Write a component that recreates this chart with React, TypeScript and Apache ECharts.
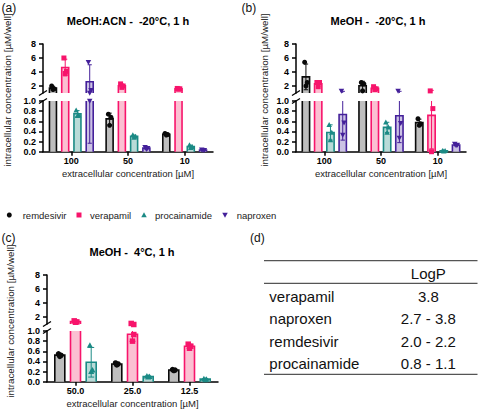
import React, { useEffect, useRef } from 'react';
import * as echarts from 'echarts';

const FONT = "'Liberation Sans', Arial, Helvetica, sans-serif";

const drugs = ['remdesivir', 'verapamil', 'procainamide', 'naproxen'];
const strokeColors = ['#0a0a0a', '#f7146b', '#1b8a85', '#44209a'];
const fillColors = ['#bebebe', '#fbc0d2', '#b9dbd8', '#cbc2e4'];
const markers = ['circle', 'square', 'triangle', 'triangleDown'];

const concAB = ['100', '50', '10'];
const concC = ['50.0', '25.0', '12.5'];

// Replicate wells (µM/well), one triple per extracellular concentration
const aRemdesivir = [[2.0, 1.6, 1.5], [0.74, 0.68, 0.52], [0.36, 0.34, 0.33]];
const aVerapamil = [[6.0, 4.1, 3.8], [2.3, 2.0, 1.8], [1.65, 1.6, 1.55]];
const aProcainamide = [[0.82, 0.72, 0.71], [0.33, 0.3, 0.28], [0.13, 0.1, 0.08]];
const aNaproxen = [[5.4, 1.4, 1.0], [0.09, 0.07, 0.05], [0.04, 0.03, 0.03]];

const bRemdesivir = [[5.4, 2.5, 2.0], [2.5, 2.3, 1.3], [0.65, 0.55, 0.52]];
const bVerapamil = [[2.5, 2.5, 1.9], [1.9, 1.6, 1.5], [1.3, 0.85, 0.0]];
const bProcainamide = [[0.53, 0.38, 0.23], [0.58, 0.48, 0.38], [0.02, 0.02, 0.01]];
const bNaproxen = [[1.3, 0.57, 0.33], [1.3, 0.56, 0.27], [0.15, 0.13, 0.12]];

const cRemdesivir = [[0.55, 0.52, 0.5], [0.37, 0.35, 0.33], [0.24, 0.23, 0.22]];
const cVerapamil = [[1.45, 1.3, 1.25], [1.08, 0.93, 0.8], [0.74, 0.7, 0.66]];
const cProcainamide = [[0.72, 0.23, 0.2], [0.11, 0.1, 0.09], [0.06, 0.05, 0.04]];

// Broken y axis: lower segment 0–1, upper segment 1–8
const lowerRange = [0, 1];
const upperRange = [1, 8];
const upperTicks = [2, 4, 6, 8];

const logpDrugs = ['verapamil', 'naproxen', 'remdesivir', 'procainamide'];
const logpValues = ['3.8', '2.7 - 3.8', '2.0 - 2.2', '0.8 - 1.1'];

const Y_NAME = 'intracellular concentration [µM/well]';
const X_NAME = 'extracellular concentration [µM]';

const UPPER_H = 49;
const LOWER_H = 50.7;

const PANELS = [
  {
    tag: '(a)', tagX: 1.5, tagY: 8,
    title: 'MeOH:ACN -  -20°C, 1 h', titleX: 128, titleY: 21,
    cats: concAB, reps: [aRemdesivir, aVerapamil, aProcainamide, aNaproxen],
    left: 43, width: 170, upperTop: 44, lowerTop: 101,
    barW: 7, gapRatio: 0.75, markerSize: 5, nameX: 7.5, nameY: 90,
  },
  {
    tag: '(b)', tagX: 241.5, tagY: 8,
    title: 'MeOH -  -20°C, 1 h', titleX: 378, titleY: 21,
    cats: concAB, reps: [bRemdesivir, bVerapamil, bProcainamide, bNaproxen],
    left: 296, width: 170, upperTop: 44, lowerTop: 101,
    barW: 7.3, gapRatio: 0.68, markerSize: 5, nameX: 264, nameY: 90,
  },
  {
    tag: '(c)', tagX: 1.5, tagY: 238,
    title: 'MeOH -  4°C, 1 h', titleX: 132, titleY: 252,
    cats: concC, reps: [cRemdesivir, cVerapamil, cProcainamide],
    left: 47, width: 171, upperTop: 275, lowerTop: 331,
    barW: 10, gapRatio: 0.57, markerSize: 5.5, nameX: 10, nameY: 321,
  },
];

const JITTER = [-1.3, 1.3, 0];

function mean(v: number[]) {
  return v.reduce((s, x) => s + x, 0) / v.length;
}
function sd(v: number[]) {
  const m = mean(v);
  return Math.sqrt(v.reduce((s, x) => s + (x - m) * (x - m), 0) / (v.length - 1));
}

function markerEl(kind: string, x: number, y: number, s: number, color: string): any {
  const h = s / 2;
  const style = { fill: color, stroke: null };
  if (kind === 'circle') return { type: 'circle', shape: { cx: x, cy: y, r: h }, style };
  if (kind === 'square') return { type: 'rect', shape: { x: x - h, y: y - h, width: s, height: s }, style };
  if (kind === 'triangle')
    return { type: 'polygon', shape: { points: [[x, y - h * 1.1], [x + h * 1.1, y + h * 0.9], [x - h * 1.1, y + h * 0.9]] }, style };
  return { type: 'polygon', shape: { points: [[x - h * 1.1, y - h * 0.9], [x + h * 1.1, y - h * 0.9], [x, y + h * 1.1]] }, style };
}

function makeRenderItem(p: any, d: number, n: number) {
  const offset = (d - (n - 1) / 2) * p.barW * (1 + p.gapRatio);
  const stroke = strokeColors[d];
  return (params: any, api: any) => {
    const cs = params.coordSys;
    const top = cs.y;
    const bottom = cs.y + cs.height;
    const clampY = (y: number) => Math.min(bottom, Math.max(top, y));
    const i = api.value(0);
    const m = api.value(1);
    const s = api.value(2);
    const reps = [api.value(3), api.value(4), api.value(5)];
    const pm = api.coord([i, m]);
    const cx = pm[0] + offset;
    const yMean = pm[1];
    const y0 = api.coord([i, 0])[1];
    const yHi = api.coord([i, m + s])[1];
    const yLo = api.coord([i, m - s])[1];
    const half = p.barW / 2;
    const children: any[] = [];

    // bar body, open where it runs into the axis break
    const bt = clampY(yMean);
    const bb = clampY(y0);
    if (bb - bt > 0.5) {
      children.push({
        type: 'rect',
        shape: { x: cx - half, y: bt, width: p.barW, height: bb - bt },
        style: { fill: fillColors[d], stroke: null },
      });
      const lw = 1.6;
      const edge = { stroke, lineWidth: lw, fill: null };
      if (yMean >= top) {
        children.push({
          type: 'polyline',
          shape: { points: [[cx - half, bb], [cx - half, bt], [cx + half, bt], [cx + half, bb]] },
          style: edge,
        });
      } else {
        children.push({ type: 'line', shape: { x1: cx - half, y1: bt, x2: cx - half, y2: bb }, style: edge });
        children.push({ type: 'line', shape: { x1: cx + half, y1: bt, x2: cx + half, y2: bb }, style: edge });
      }
    }

    // SD error bar with caps
    const e1 = clampY(yHi);
    const e2 = clampY(yLo);
    const eStyle = { stroke, lineWidth: 1, fill: null };
    const cap = p.barW * 0.3;
    if (e2 - e1 > 0.3) {
      children.push({ type: 'line', shape: { x1: cx, y1: e1, x2: cx, y2: e2 }, style: eStyle });
    }
    if (yHi >= top && yHi <= bottom && s > 0) {
      children.push({ type: 'line', shape: { x1: cx - cap, y1: yHi, x2: cx + cap, y2: yHi }, style: eStyle });
    }
    if (yLo >= top && yLo <= bottom && s > 0) {
      children.push({ type: 'line', shape: { x1: cx - cap, y1: yLo, x2: cx + cap, y2: yLo }, style: eStyle });
    }

    // individual wells
    reps.forEach((v: number, k: number) => {
      const y = api.coord([i, v])[1];
      if (y >= top - 0.5 && y <= bottom + 0.5) {
        children.push(markerEl(markers[d], cx + JITTER[k], y, p.markerSize, stroke));
      }
    });

    return { type: 'group', children };
  };
}

function buildOption() {
  const grid: any[] = [];
  const xAxis: any[] = [];
  const yAxis: any[] = [];
  const series: any[] = [];
  const elements: any[] = [];

  const axisLine = { show: true, lineStyle: { color: '#000', width: 1.5 } };
  const tickLabel = { fontSize: 9, fontWeight: 'bold', color: '#000', fontFamily: FONT };

  PANELS.forEach((p, pi) => {
    const gu = 2 * pi;
    const gl = 2 * pi + 1;
    grid.push({ left: p.left, top: p.upperTop, width: p.width, height: UPPER_H, outerBoundsMode: 'none', containLabel: false });
    grid.push({ left: p.left, top: p.lowerTop, width: p.width, height: LOWER_H, outerBoundsMode: 'none', containLabel: false });

    xAxis.push({ type: 'category', gridIndex: gu, data: p.cats, show: false });
    xAxis.push({
      type: 'category',
      gridIndex: gl,
      data: p.cats,
      axisLine,
      axisTick: { show: true, alignWithLabel: true, length: 4, lineStyle: { color: '#000', width: 1.5 } },
      axisLabel: { ...tickLabel, margin: 5 },
      splitLine: { show: false },
      name: X_NAME,
      nameLocation: 'middle',
      nameGap: 17,
      nameTextStyle: { fontSize: 9.5, color: '#222', fontFamily: FONT },
    });

    yAxis.push({
      type: 'value',
      gridIndex: gu,
      min: upperRange[0],
      max: upperRange[1],
      axisLine,
      axisTick: { show: true, length: 4, customValues: upperTicks, lineStyle: { color: '#000', width: 1.5 } },
      axisLabel: { ...tickLabel, margin: 7, customValues: upperTicks },
      splitLine: { show: false },
    });
    yAxis.push({
      type: 'value',
      gridIndex: gl,
      min: lowerRange[0],
      max: lowerRange[1],
      interval: 0.2,
      axisLine,
      axisTick: { show: true, length: 4, lineStyle: { color: '#000', width: 1.5 } },
      axisLabel: { ...tickLabel, margin: 7, formatter: (v: number) => v.toFixed(1) },
      splitLine: { show: false },
    });

    const n = p.reps.length;
    p.reps.forEach((reps, d) => {
      const data = reps.map((r, i) => [i, mean(r), sd(r), r[0], r[1], r[2]]);
      [gu, gl].forEach((g) => {
        series.push({
          type: 'custom',
          name: drugs[d],
          xAxisIndex: g,
          yAxisIndex: g,
          data,
          encode: { x: 0, y: 1 },
          renderItem: makeRenderItem(p, d, n),
          silent: true,
          z: 3,
        });
      });
    });

    // break marks on the y axis
    const yu = p.upperTop + UPPER_H;
    const yl = p.lowerTop;
    [yu, yl].forEach((y) => {
      elements.push({
        type: 'line',
        shape: { x1: p.left - 4, y1: y + 2.5, x2: p.left + 4, y2: y - 2.5 },
        style: { stroke: '#000', lineWidth: 1.3 },
        z: 10,
      });
    });

    elements.push({
      type: 'text', x: p.titleX, y: p.titleY,
      style: { text: p.title, fontSize: 11, fontWeight: 'bold', fontFamily: FONT, fill: '#000', align: 'center', verticalAlign: 'middle', textAlign: 'center', textVerticalAlign: 'middle' },
    });
    elements.push({
      type: 'text', x: p.tagX, y: p.tagY,
      style: { text: p.tag, fontSize: 12, fontFamily: FONT, fill: '#111', align: 'left', verticalAlign: 'middle', textAlign: 'left', textVerticalAlign: 'middle' },
    });
    elements.push({
      type: 'text', x: p.nameX, y: p.nameY, rotation: Math.PI / 2,
      style: { text: Y_NAME, fontSize: 9.8, fontFamily: FONT, fill: '#222', align: 'center', verticalAlign: 'middle', textAlign: 'center', textVerticalAlign: 'middle' },
    });
  });

  // shared legend row
  const legendMarkerX = [9.3, 79, 144, 225];
  const legendTextX = [22.7, 90, 155, 236.7];
  const legendY = 215;
  drugs.forEach((name, d) => {
    elements.push(markerEl(markers[d], legendMarkerX[d], legendY, 5, strokeColors[d]));
    elements.push({
      type: 'text', x: legendTextX[d], y: legendY,
      style: { text: name, fontSize: 9.5, fontFamily: FONT, fill: '#222', align: 'left', verticalAlign: 'middle', textAlign: 'left', textVerticalAlign: 'middle' },
    });
  });

  // (d) LogP table
  elements.push({
    type: 'text', x: 250, y: 238,
    style: { text: '(d)', fontSize: 12, fontFamily: FONT, fill: '#111', align: 'left', verticalAlign: 'middle', textAlign: 'left', textVerticalAlign: 'middle' },
  });
  const tLeft = 264;
  const tRight = 477.5;
  const valueX = 428.3;
  const ruleStyle = { stroke: '#555', lineWidth: 1.2 };
  [260.7, 283.3, 374.3].forEach((y) => {
    elements.push({ type: 'line', shape: { x1: tLeft, y1: y, x2: tRight, y2: y }, style: ruleStyle });
  });
  elements.push({
    type: 'text', x: valueX, y: 273.3,
    style: { text: 'LogP', fontSize: 15, fontFamily: FONT, fill: '#111', align: 'center', verticalAlign: 'middle', textAlign: 'center', textVerticalAlign: 'middle' },
  });
  logpDrugs.forEach((name, r) => {
    const y = 296 + r * 22.5;
    elements.push({
      type: 'text', x: 269.3, y,
      style: { text: name, fontSize: 15, fontFamily: FONT, fill: '#111', align: 'left', verticalAlign: 'middle', textAlign: 'left', textVerticalAlign: 'middle' },
    });
    elements.push({
      type: 'text', x: valueX, y,
      style: { text: logpValues[r], fontSize: 15, fontFamily: FONT, fill: '#111', align: 'center', verticalAlign: 'middle', textAlign: 'center', textVerticalAlign: 'middle' },
    });
  });

  return {
    animation: false,
    backgroundColor: '#ffffff',
    textStyle: { fontFamily: FONT },
    grid,
    xAxis,
    yAxis,
    series,
    graphic: { elements },
  };
}

export default function App() {
  const ref = useRef<HTMLDivElement>(null);
  useEffect(() => {
    document.body.style.margin = '0';
    const chart = echarts.init(ref.current as HTMLDivElement, null, { renderer: 'svg' });
    chart.setOption(buildOption() as any);
    return () => chart.dispose();
  }, []);
  return <div ref={ref} style={{ width: 479, height: 412 }} />;
}
